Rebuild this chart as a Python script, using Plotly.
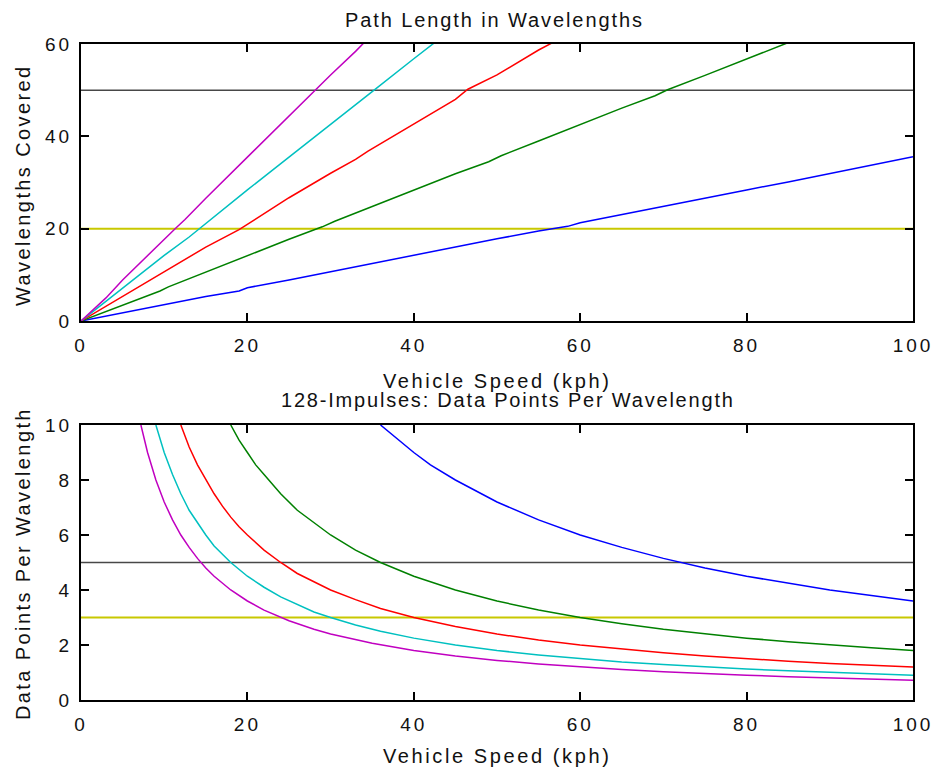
import plotly.graph_objects as go
from plotly.subplots import make_subplots

# ---- Path length in wavelengths (top panel) ----
spd_wl_blue = [0, 5, 10, 15, 19, 20, 25, 30, 35, 40, 45, 50, 55, 58.5, 60, 65, 70, 75, 80, 85, 90, 95, 99, 100]
wl_blue = [0, 1.8, 3.5, 5.3, 6.5, 7.2, 8.9, 10.7, 12.4, 14.2, 16.0, 17.8, 19.5, 20.5, 21.3, 23.1, 24.8, 26.6, 28.4, 30.1, 31.9, 33.7, 35.1, 35.6]
spd_wl_green = [0, 5, 9.5, 10.5, 15, 20, 25, 29, 30.5, 35, 40, 45, 49, 50.5, 55, 60, 65, 69, 70.5, 75, 80, 85]
wl_green = [0, 3.5, 6.5, 7.4, 10.6, 14.2, 17.7, 20.4, 21.6, 24.8, 28.4, 31.9, 34.5, 35.8, 39.0, 42.6, 46.1, 48.8, 50.1, 53.2, 56.8, 60.3]
spd_wl_red = [0, 5, 7, 10, 15, 19, 20.5, 25, 30, 33, 34.5, 40, 45, 46.5, 50, 55, 57]
wl_red = [0, 5.3, 7.6, 10.6, 16.0, 19.8, 21.5, 26.7, 32.0, 35.0, 36.8, 42.7, 48.0, 50.2, 53.3, 58.7, 60.6]
spd_wl_cyan = [0, 5, 10, 13, 14.5, 20, 25, 28, 29.5, 35, 40, 43]
wl_cyan = [0, 7.1, 14.2, 18.2, 20.4, 28.4, 35.5, 39.7, 41.8, 49.7, 56.8, 61.0]
spd_wl_magenta = [0, 3, 5, 10, 11.5, 12.5, 15, 20, 25, 28, 30, 33, 35]
wl_magenta = [0, 5.0, 8.9, 17.8, 20.3, 22.0, 26.6, 35.5, 44.4, 49.7, 53.3, 58.4, 62.1]

# ---- Data points per wavelength (bottom panel) ----
spd_blue = [36, 38, 40, 42, 45, 50, 55, 60, 65, 70, 75, 80, 85, 90, 95, 100]
dp_blue = [10.0, 9.5, 9.0, 8.55, 8.0, 7.2, 6.55, 6.0, 5.55, 5.15, 4.8, 4.5, 4.25, 4.0, 3.8, 3.6]
spd_green = [18, 19, 20, 21, 22, 24, 26, 28, 30, 33, 36, 40, 45, 50, 55, 60, 65, 70, 75, 80, 85, 90, 95, 100]
dp_green = [10.0, 9.45, 9.0, 8.55, 8.2, 7.5, 6.9, 6.45, 6.0, 5.45, 5.0, 4.5, 4.0, 3.6, 3.27, 3.0, 2.77, 2.57, 2.4, 2.25, 2.12, 2.0, 1.9, 1.8]
spd_red = [12, 13, 14, 15, 16, 17, 18, 19, 20, 22, 24, 26, 28, 30, 33, 36, 40, 45, 50, 55, 60, 65, 70, 75, 80, 85, 90, 95, 100]
dp_red = [10.0, 9.2, 8.55, 8.0, 7.5, 7.05, 6.65, 6.3, 6.0, 5.45, 5.0, 4.6, 4.3, 4.0, 3.65, 3.33, 3.0, 2.67, 2.4, 2.18, 2.0, 1.85, 1.72, 1.6, 1.5, 1.41, 1.33, 1.26, 1.2]
spd_cyan = [9, 10, 11, 12, 13, 14, 15, 16, 17, 18, 20, 22, 24, 26, 28, 30, 33, 36, 40, 45, 50, 55, 60, 65, 70, 75, 80, 85, 90, 95, 100]
dp_cyan = [10.0, 9.0, 8.2, 7.5, 6.9, 6.45, 6.0, 5.6, 5.3, 5.0, 4.5, 4.1, 3.75, 3.46, 3.2, 3.0, 2.73, 2.5, 2.25, 2.0, 1.8, 1.64, 1.5, 1.38, 1.29, 1.2, 1.13, 1.06, 1.0, 0.95, 0.9]
spd_magenta = [7.2, 8, 9, 10, 11, 12, 13, 14, 15, 16, 18, 20, 22, 25, 28, 30, 35, 40, 45, 50, 55, 60, 65, 70, 75, 80, 85, 90, 95, 100]
dp_magenta = [10.0, 9.0, 8.0, 7.2, 6.55, 6.0, 5.55, 5.15, 4.8, 4.5, 4.0, 3.6, 3.27, 2.88, 2.57, 2.4, 2.06, 1.8, 1.6, 1.44, 1.31, 1.2, 1.11, 1.03, 0.96, 0.9, 0.85, 0.8, 0.76, 0.72]

colors = {"blue": "#0000ff", "green": "#008000", "red": "#ff0000",
          "cyan": "#00c0c0", "magenta": "#c000c0"}
ref_black = "#484848"
ref_yellow = "#c8c800"

x_ticks = [0, 20, 40, 60, 80, 100]
y_ticks_top = [0, 20, 40, 60]
y_ticks_bot = [0, 2, 4, 6, 8, 10]

FONT = "Liberation Sans, Arial, sans-serif"


def spaced(text, ls):
    return f'<span style="letter-spacing:{ls}px">{text}</span>'


# pixel geometry of the page
W, H = 938, 772
ML, MR, MT, MB = 81, 25, 44, 72
PH = H - MT - MB
PW = W - ML - MR


def py(pix):
    return (H - MB - pix) / PH


def px(pix):
    return (pix - ML) / PW


fig = make_subplots(rows=2, cols=1, vertical_spacing=0.0)
fig.update_layout(
    yaxis=dict(domain=[py(321), 1.0]),
    yaxis2=dict(domain=[0.0, py(425)]),
)

top_series = [
    (spd_wl_blue, wl_blue, "blue"), (spd_wl_green, wl_green, "green"),
    (spd_wl_red, wl_red, "red"), (spd_wl_cyan, wl_cyan, "cyan"),
    (spd_wl_magenta, wl_magenta, "magenta"),
]
for xs, ys, c in top_series:
    fig.add_trace(go.Scatter(x=xs, y=ys, mode="lines",
                             line=dict(color=colors[c], width=1.5),
                             showlegend=False, hoverinfo="skip"), row=1, col=1)

bot_series = [
    (spd_blue, dp_blue, "blue"), (spd_green, dp_green, "green"),
    (spd_red, dp_red, "red"), (spd_cyan, dp_cyan, "cyan"),
    (spd_magenta, dp_magenta, "magenta"),
]
for xs, ys, c in bot_series:
    fig.add_trace(go.Scatter(x=xs, y=ys, mode="lines",
                             line=dict(color=colors[c], width=1.5),
                             showlegend=False, hoverinfo="skip"), row=2, col=1)

# reference levels
for row, (yb, yy) in zip([1, 2], [(50, 20), (5, 3)]):
    fig.add_hline(y=yb, line=dict(color=ref_black, width=1.5), row=row, col=1, layer="below")
    fig.add_hline(y=yy, line=dict(color=ref_yellow, width=2), row=row, col=1, layer="below")

axis_common = dict(
    showgrid=False, zeroline=False, showline=True, linecolor="black", linewidth=2,
    mirror="ticks", ticks="inside", ticklen=8, tickwidth=1.5, tickcolor="black",
    tickfont=dict(family=FONT, size=19, color="#111111"), automargin=False,
)

fig.update_xaxes(range=[0, 100], tickvals=x_ticks,
                 ticktext=[spaced(str(v), 3) for v in x_ticks],
                 ticklabelstandoff=6, **axis_common)
fig.update_yaxes(range=[0, 60], tickvals=y_ticks_top,
                 ticktext=[spaced(str(v), 3) for v in y_ticks_top],
                 ticklabelstandoff=3, row=1, col=1, **axis_common)
fig.update_yaxes(range=[0, 10], tickvals=y_ticks_bot,
                 ticktext=[spaced(str(v), 3) for v in y_ticks_bot],
                 ticklabelstandoff=3, row=2, col=1, **axis_common)

tfont = dict(family=FONT, size=20, color="#111111")
annots = [
    ("Path Length in Wavelengths", 494, 20, 0, 1.9),
    ("Vehicle Speed (kph)", 497, 381, 0, 2.6),
    ("128-Impulses: Data Points Per Wavelength", 508, 400, 0, 1.8),
    ("Vehicle Speed (kph)", 497, 756, 0, 2.6),
    ("Wavelengths Covered", 23, 185, -90, 2.4),
    ("Data Points Per Wavelength", 23, 564, -90, 2.4),
]
for text, x, y, ang, ls in annots:
    fig.add_annotation(text=spaced(text, ls), x=px(x), y=py(y), xref="paper", yref="paper",
                       xanchor="center", yanchor="middle", showarrow=False,
                       textangle=ang, font=tfont)

fig.update_layout(
    width=W, height=H,
    margin=dict(l=ML, r=MR, t=MT, b=MB, autoexpand=False),
    paper_bgcolor="white", plot_bgcolor="white",
    font=dict(family=FONT),
)

fig.write_html("out.html")
